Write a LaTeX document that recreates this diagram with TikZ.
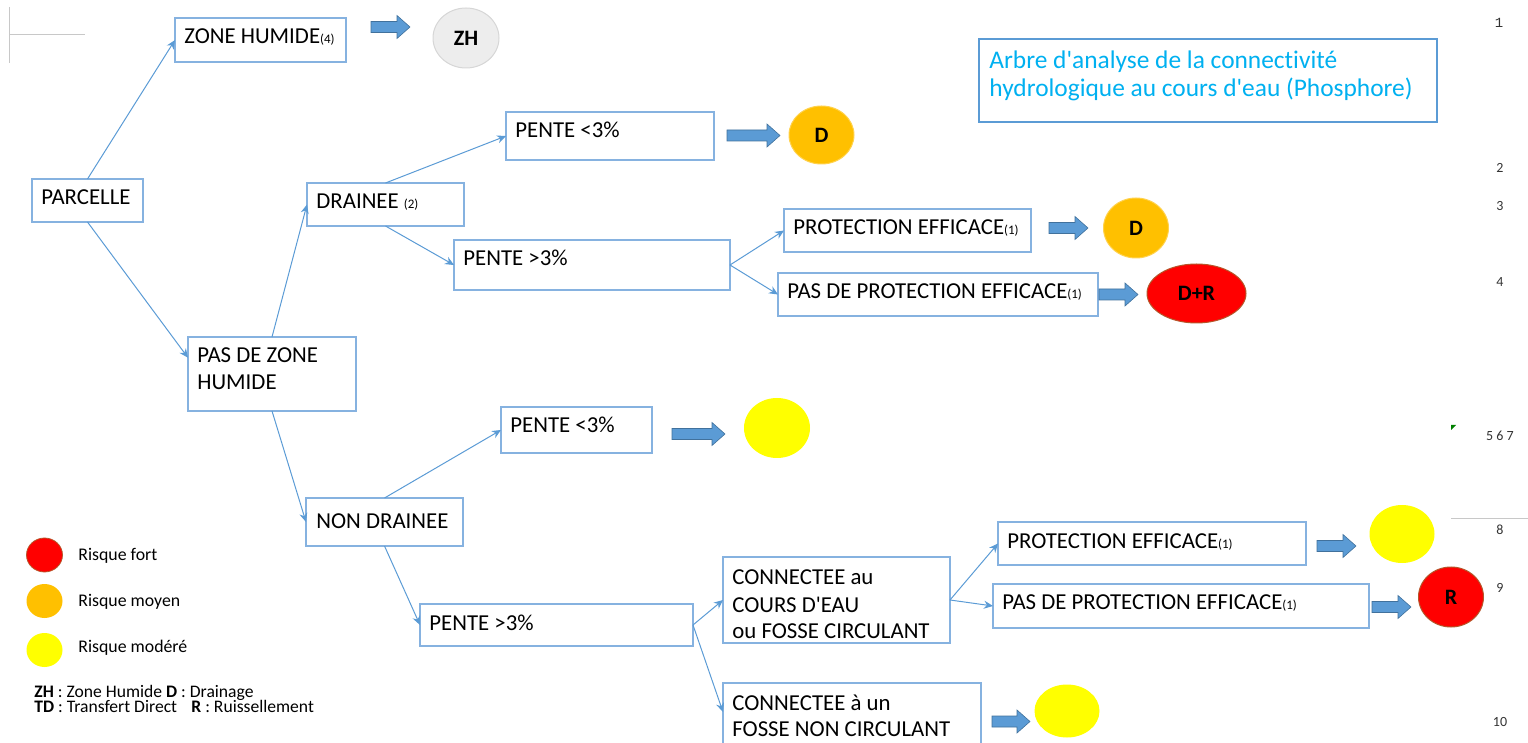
\documentclass[tikz,border=0pt]{standalone}
\usepackage{fontspec}
\newfontfamily\calib{Carlito}[Ligatures=CommonOff]
\newfontfamily\monofont{Liberation Mono}
\usetikzlibrary{shapes.geometric,fit,calc,arrows.meta}
\definecolor{lineblue}{HTML}{5B9BD5}
\definecolor{boxblue}{HTML}{86B2E0}
\definecolor{arrowedge}{HTML}{41719C}
\definecolor{riskred}{HTML}{FF0000}
\definecolor{redge}{HTML}{B5562A}
\definecolor{riskorange}{HTML}{FFC000}
\definecolor{oedge}{HTML}{FFD24D}
\definecolor{riskyellow}{HTML}{FFFF00}
\definecolor{zhfill}{HTML}{EDEDED}
\definecolor{zhedge}{HTML}{D6D6D6}
\definecolor{titlecol}{HTML}{00B0F0}
\definecolor{greyline}{HTML}{C8C8C8}
\definecolor{numcol}{HTML}{333333}
\newcommand\sm[1]{{\fontsize{6.5}{7}\selectfont #1}}
\newcommand\tb[6]{%
  \node[box,fit={(#2,#3)(#4,#5)}] (#1) {};
  \node[txt] at (#2+9,#3+26) {#6};}
\newcommand\barr[3]{%
  \filldraw[barrow] (#1,#3-5.5) -- (#2-13,#3-5.5) -- (#2-13,#3-11.5) -- (#2,#3)
    -- (#2-13,#3+11.5) -- (#2-13,#3+5.5) -- (#1,#3+5.5) -- cycle;}
\begin{document}
\calib
\begin{tikzpicture}[x=0.5pt,y=-0.5pt,
  box/.style={draw=boxblue,line width=0.6pt,rectangle,inner sep=0pt,outer sep=0pt},
  txt/.style={anchor=base west,inner sep=0pt,font=\calib\fontsize{11.4}{13}\selectfont},
  conn/.style={draw=lineblue,line width=0.5pt,-{Stealth[length=4.5pt,width=4pt]}},
  barrow/.style={fill=lineblue,draw=arrowedge,line width=0.3pt},
  risk/.style={ellipse,inner sep=0pt,line width=0.5pt,font=\calib\fontsize{11}{13}\selectfont\bfseries},
  legtxt/.style={anchor=base west,inner sep=0pt,font=\calib\fontsize{8.9}{10}\selectfont},
  keytxt/.style={anchor=base west,inner sep=0pt,font=\calib\fontsize{8.8}{9}\selectfont},
  num/.style={anchor=base,inner sep=0pt,text=numcol,font=\calib\fontsize{7}{8}\selectfont}]
\clip (0,0) rectangle (1528,743);
\useasboundingbox (0,0) rectangle (1528,743);

% faint page marks
\draw[greyline,line width=0.5pt] (9,7) -- (9,63);
\draw[greyline,line width=0.5pt] (9,35) -- (85,35);
\draw[greyline,line width=0.5pt] (1451,519) -- (1528,519);
\fill[green!50!black] (1451,425) -- (1456,425) -- (1451,430) -- cycle;

% page numbers
\node[num,font=\monofont\fontsize{7}{8}\selectfont] (n1) at (1499,28) {1};
\node[num] (n2) at (1500,173) {2};
\node[num] (n3) at (1500,211) {3};
\node[num] (n4) at (1500,287) {4};
\node[num] (n5) at (1500,441) {5 6 7};
\node[num] (n8) at (1500,535) {8};
\node[num] (n9) at (1500,592) {9};
\node[num] (n10) at (1500,726) {10};

% title
\node[draw=lineblue,line width=1pt,inner sep=0pt,fit={(979,39)(1437,122)}] (title) {};
\node[anchor=base west,inner sep=0pt,text=titlecol,font=\calib\fontsize{12.7}{15}\selectfont] (t1) at (989,69) {Arbre d'analyse de la connectivité};
\node[anchor=base west,inner sep=0pt,text=titlecol,font=\calib\fontsize{12.7}{15}\selectfont] (t2) at (989,97) {hydrologique au cours d'eau (Phosphore)};

% boxes
\tb{zhbox}{175}{18}{346}{62}{ZONE HUMIDE\sm{(4)}}
\tb{parcelle}{32}{179}{143}{222}{PARCELLE}
\tb{drainee}{307}{183}{464}{226}{DRAINEE \sm{(2)}}
\node[box,fit={(188,337)(356,411)}] (pdzh) {};
\node[txt] (pdzh1) at (197,363) {PAS DE ZONE};
\node[txt] (pdzh2) at (197,390) {HUMIDE};
\tb{pente1}{506}{112}{714}{160}{PENTE <3\%}
\tb{pente2}{454}{240}{730}{290}{PENTE >3\%}
\tb{prot1}{784}{209}{1031}{252}{PROTECTION EFFICACE\sm{(1)}}
\tb{pasprot1}{778}{273}{1098}{316}{PAS DE PROTECTION EFFICACE\sm{(1)}}
\node[box,fit={(306,498)(463,546)}] (nondr) {};
\node[txt] (nondrt) at (316,529) {NON DRAINEE};
\tb{pente3}{501}{407}{652}{453}{PENTE <3\%}
\tb{pente4}{420}{604}{693}{646}{PENTE >3\%}
\node[box,fit={(723,557)(950,643)}] (conn1) {};
\node[txt] (c1a) at (732,584) {CONNECTEE au};
\node[txt] (c1b) at (732,612) {COURS D'EAU};
\node[txt] (c1c) at (732,639) {ou FOSSE CIRCULANT};
\node[box,fit={(723,683)(981,770)}] (conn2) {};
\node[txt] (c2a) at (732,710) {CONNECTEE à un};
\node[txt] (c2b) at (732,736) {FOSSE NON CIRCULANT};
\tb{prot2}{998}{522}{1306}{565}{PROTECTION EFFICACE\sm{(1)}}
\tb{pasprot2}{993}{584}{1369}{628}{PAS DE PROTECTION EFFICACE\sm{(1)}}

% result ellipses
\node[risk,fill=zhfill,draw=zhedge,minimum width=33pt,minimum height=30pt] (zh) at (466,38) {ZH};
\node[risk,fill=riskorange,draw=oedge,minimum width=32.5pt,minimum height=29pt] (d1) at (821.5,135) {D};
\node[risk,fill=riskorange,draw=oedge,minimum width=32.5pt,minimum height=30pt] (d2) at (1136,228) {D};
\node[risk,fill=riskred,draw=redge,minimum width=49.5pt,minimum height=29.5pt] (dr) at (1196.5,293.5) {D+R};
\node[risk,fill=riskyellow,minimum width=33pt,minimum height=30pt] (y1) at (777,428) {};
\node[risk,fill=riskyellow,minimum width=32.5pt,minimum height=29pt] (y3) at (1402,534) {};
\node[risk,fill=riskred,draw=redge,minimum width=32.5pt,minimum height=30pt] (r) at (1451,597) {R};
\node[risk,fill=riskyellow,minimum width=32.5pt,minimum height=26.5pt] (y2) at (1067,711) {};

% block arrows
\barr{371}{410}{27}
\barr{727}{780}{135.5}
\barr{1049}{1088}{228}
\barr{1099}{1138}{294.5}
\barr{672}{725}{434}
\barr{1317}{1356}{546}
\barr{1372}{1411}{607}
\barr{992}{1030}{721.5}

% connectors
\draw[conn] (parcelle.north) -- (zhbox.west);
\draw[conn] (parcelle.south) -- ($(pdzh.north west)!0.28!(pdzh.south west)$);
\draw[conn] (pdzh.north) -- (drainee.west);
\draw[conn] (pdzh.south) -- (nondr.west);
\draw[conn] (drainee.north) -- (pente1.west);
\draw[conn] (drainee.south) -- (pente2.west);
\draw[conn] (pente2.east) -- (prot1.west);
\draw[conn] (pente2.east) -- (pasprot1.west);
\draw[conn] (nondr.north) -- (pente3.west);
\draw[conn] (nondr.south) -- (pente4.west);
\draw[conn] (pente4.east) -- (conn1.west);
\draw[conn] (pente4.east) -- ($(conn2.north west)+(0,29)$);
\draw[conn] (conn1.east) -- (prot2.west);
\draw[conn] (conn1.east) -- (pasprot2.west);

% legend
\node[ellipse,inner sep=0pt,fill=riskred,draw=redge,line width=0.4pt,minimum width=18pt,minimum height=17pt] (lr) at (44.5,555) {};
\node[ellipse,inner sep=0pt,fill=riskorange,minimum width=18pt,minimum height=17pt] (lo) at (44.5,601) {};
\node[ellipse,inner sep=0pt,fill=riskyellow,minimum width=18pt,minimum height=17pt] (ly) at (44.5,650) {};
\node[legtxt] (lrt) at (78,560) {Risque fort};
\node[legtxt] (lot) at (78,606) {Risque moyen};
\node[legtxt] (lyt) at (78,652) {Risque modéré};
\node[keytxt] (k1) at (34,697) {\textbf{ZH} : Zone Humide \textbf{D} : Drainage};
\node[keytxt] (k2) at (34,712) {\textbf{TD} : Transfert Direct};
\node[keytxt] (k3) at (191,712) {\textbf{R} : Ruissellement};
\end{tikzpicture}
\end{document}
